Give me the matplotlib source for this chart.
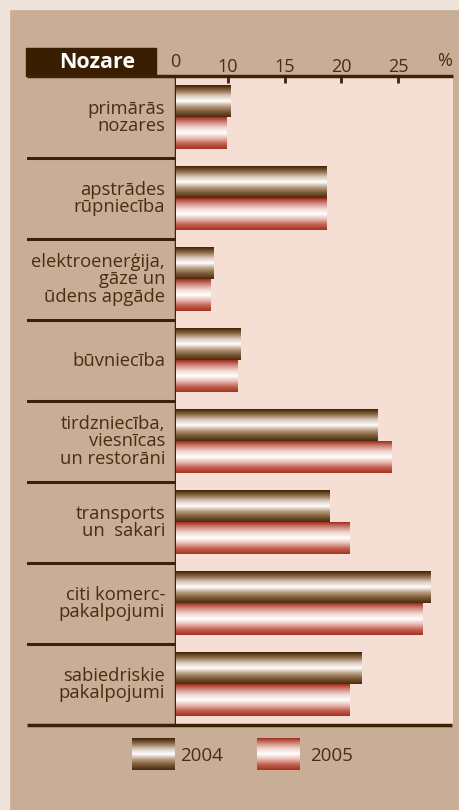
import numpy as np
import matplotlib
matplotlib.use("Agg")
import matplotlib.pyplot as plt
from matplotlib.colors import LinearSegmentedColormap

# data (percent)
categories = [
    "primārās\nnozares",
    "apstrādes\nrūpniecība",
    "elektroenerģija,\ngāze un\nūdens apgāde",
    "būvniecība",
    "tirdzniecība,\nviesnīcas\nun restorāni",
    "transports\nun  sakari",
    "citi komerc-\npakalpojumi",
    "sabiedriskie\npakalpojumi",
]
val_2004 = [10.2, 18.6, 8.7, 11.1, 23.1, 18.9, 27.8, 21.7]
val_2005 = [9.8, 18.6, 8.4, 10.8, 24.4, 20.7, 27.1, 20.7]
years = ["2004", "2005"]
tick_vals = [10, 15, 20, 25]
tick_labels = ["10", "15", "20", "25"]

TAN = "#c8ae96"
PINK = "#f5dfd5"
DARK = "#3f2205"
EDGE = "#ede3db"
TXT = "#4a2e10"

plt.rcParams["font.family"] = ["Open Sans", "DejaVu Sans"]

cmap04 = LinearSegmentedColormap.from_list(
    "b04", ["#3f2000", "#8b6a48", "#d9c8b8", "#ffffff", "#b89c80", "#7a5a38", "#4a2a08"])
cmap05 = LinearSegmentedColormap.from_list(
    "b05", ["#a22a1c", "#d08a80", "#f2d8d2", "#ffffff", "#e8b8b0", "#c06050", "#a8301f"])

W, H = 460, 810
fig = plt.figure(figsize=(W / 100, H / 100), dpi=100)
fig.patch.set_facecolor(TAN)

# light border strips at top and left
fig.patches.append(plt.Rectangle((0, 1 - 9 / H), 1, 9 / H, transform=fig.transFigure,
                                 color=EDGE, zorder=0))
fig.patches.append(plt.Rectangle((0, 0), 9 / W, 1, transform=fig.transFigure,
                                 color=EDGE, zorder=0))

top, bot = 77, 725
xl, xm, xr = 27, 175.5, 453

# label column
lab = fig.add_axes([xl / W, 1 - bot / H, (xm - xl) / W, (bot - top) / H])
lab.set_facecolor(TAN)
lab.set_xlim(0, 1)
lab.set_ylim(len(categories) - 0.5, -0.5)
lab.set_xticks([])
lab.set_yticks([])
for s in lab.spines.values():
    s.set_visible(False)
for i, c in enumerate(categories):
    lab.text(0.93, i, c, ha="right", va="center", fontsize=13.2, color=TXT,
             linespacing=0.95)
    if i > 0:
        lab.axhline(i - 0.5, color=DARK, lw=2.2)
lab.axvline(1, color=DARK, lw=2.5)

# main axes
ax = fig.add_axes([xm / W, 1 - bot / H, (xr - xm) / W, (bot - top) / H])
ax.set_facecolor(PINK)
ax.set_xlim(5.38, 29.83)
y = np.arange(len(categories))
h = 0.385
ax.set_ylim(len(categories) - 0.5, -0.5)
grad = np.linspace(0, 1, 256).reshape(-1, 1)
b04 = ax.barh(y - h / 2, val_2004, height=h, left=0, color="none")
b05 = ax.barh(y + h / 2, val_2005, height=h, left=0, color="none")
for bars, cm in ((b04, cmap04), (b05, cmap05)):
    for r in bars:
        x0, y0, w, hh = r.get_x(), r.get_y(), r.get_width(), r.get_height()
        ax.imshow(grad, cmap=cm, aspect="auto", origin="upper",
                  extent=(ax.get_xlim()[0], x0 + w, y0 + hh, y0), zorder=2)
ax.set_xlim(5.38, 29.83)
ax.set_ylim(len(categories) - 0.5, -0.5)
ax.set_yticks([])
ax.xaxis.tick_top()
ax.set_xticks(tick_vals)
ax.set_xticklabels(tick_labels, fontsize=13, color=TXT)
ax.tick_params(axis="x", length=4, width=2, color=DARK, pad=1, direction="in")
for s in ax.spines.values():
    s.set_visible(False)

# top axis line and bottom line across both columns
line_ax = fig.add_axes([0, 0, 1, 1], facecolor="none")
line_ax.set_xlim(0, W)
line_ax.set_ylim(H, 0)
line_ax.axis("off")
line_ax.plot([xl, xr], [top - 1, top - 1], color=DARK, lw=2.5, solid_capstyle="butt")
line_ax.plot([xl, xr - 1], [bot, bot], color=DARK, lw=2.5, solid_capstyle="butt")

# header
line_ax.add_patch(plt.Rectangle((26, 48), 130, 28, color="#3a1e02"))
line_ax.text(97, 63, "Nozare", color="white", fontsize=15.5, fontweight="bold",
             ha="center", va="center")
line_ax.text(175, 62, "0", color=TXT, fontsize=13, ha="center", va="center")
line_ax.text(445, 61, "%", color=TXT, fontsize=13, ha="center", va="center")

# legend
for k, (yr, cm) in enumerate(zip(years, (cmap04, cmap05))):
    x0 = 132 + k * 125
    line_ax.imshow(grad, cmap=cm, aspect="auto", origin="upper",
                   extent=(x0, x0 + 43, 770, 738))
    line_ax.text(x0 + 48 + k * 5, 756, yr, color=TXT, fontsize=13.5,
                 ha="left", va="center")
line_ax.set_xlim(0, W)
line_ax.set_ylim(H, 0)

fig.savefig("out.png", dpi=100, facecolor=fig.get_facecolor())
